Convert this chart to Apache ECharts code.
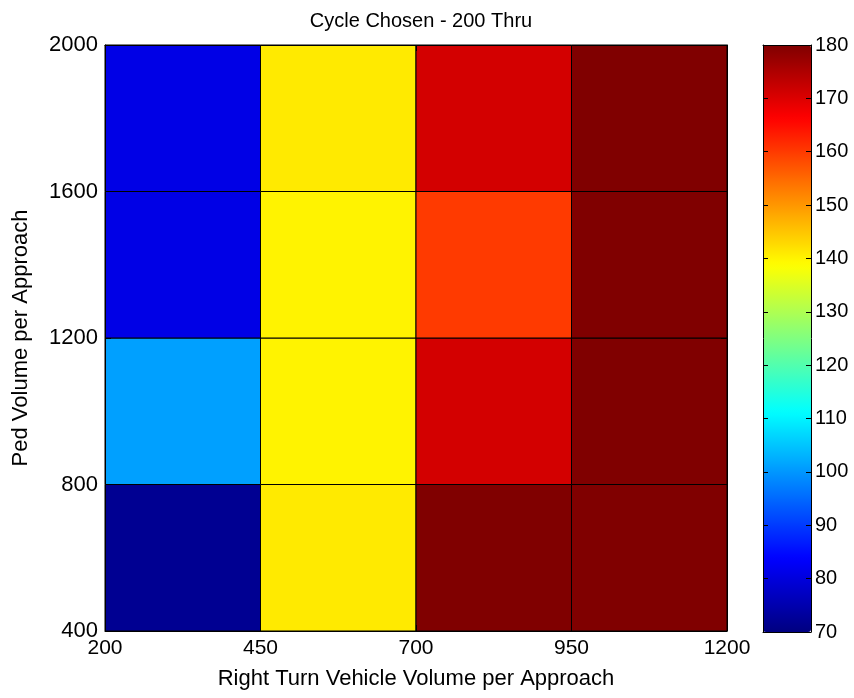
<!DOCTYPE html>
<html>
<head>
<meta charset="utf-8">
<script src="https://cdn.jsdelivr.net/npm/echarts@6/dist/echarts.min.js"></script>
<style>html,body{margin:0;padding:0;background:#fff}#c{width:854px;height:698px}</style>
</head>
<body>
<div id="c"></div>
<script>
const xEdges = [200, 450, 700, 950, 1200];
const yEdges = [400, 800, 1200, 1600, 2000];
// rows from bottom (400-800) to top (1600-2000), columns left to right
const cellValues = [
  [72, 141, 180, 180],
  [101, 140, 171, 180],
  [81, 140, 160, 180],
  [81, 141, 171, 180]
];
const xTicks = [200, 450, 700, 950, 1200];
const yTicks = [400, 800, 1200, 1600, 2000];
const colorTicks = [70, 80, 90, 100, 110, 120, 130, 140, 150, 160, 170, 180];
const jetColors = ['#000080', '#0000FF', '#0080FF', '#00FFFF', '#80FF80', '#FFFF00', '#FF8000', '#FF0000', '#800000'];

const cells = [];
for (let r = 0; r < cellValues.length; r++) {
  for (let c = 0; c < cellValues[r].length; c++) {
    cells.push([xEdges[c], xEdges[c + 1], yEdges[r], yEdges[r + 1], cellValues[r][c]]);
  }
}

const font = 'Liberation Sans, Arial, sans-serif';
const chart = echarts.init(document.getElementById('c'), null, {renderer: 'canvas'});
function tick(len) { return {show: true, inside: true, length: len, lineStyle: {color: '#000', width: 1}}; }
function line() { return {show: true, onZero: false, lineStyle: {color: '#000', width: 1}}; }
const plain = function (v) { return String(v); };
function lbl(size, margin) { return {color: '#000', fontSize: size, fontFamily: font, formatter: plain, margin: margin}; }
const nameStyle = {color: '#000', fontSize: 22, fontFamily: font};

chart.setOption({
  animation: false,
  backgroundColor: '#fff',
  title: {
    text: 'Cycle Chosen - 200 Thru',
    left: 416, top: 6, textAlign: 'center',
    textStyle: {color: '#000', fontSize: 20, fontWeight: 'normal', fontFamily: font}
  },
  grid: [
    {left: 105, top: 45, width: 622, height: 586},
    {left: 763, top: 45, width: 48, height: 587}
  ],
  xAxis: [
    {gridIndex: 0, type: 'value', min: 200, max: 1200, interval: 250, position: 'bottom',
     axisLine: line(), axisTick: tick(6), splitLine: {show: false},
     axisLabel: lbl(21, 7),
     name: 'Right Turn Vehicle Volume per Approach', nameLocation: 'middle', nameGap: 37,
     nameTextStyle: nameStyle, zlevel: 1},
    {gridIndex: 0, type: 'value', min: 200, max: 1200, interval: 250, position: 'top',
     axisLine: line(), axisTick: tick(6), splitLine: {show: false}, axisLabel: {show: false}, zlevel: 1},
    {gridIndex: 1, type: 'value', min: 0, max: 1, position: 'bottom',
     axisLine: line(), axisTick: {show: false}, splitLine: {show: false}, axisLabel: {show: false}, zlevel: 1},
    {gridIndex: 1, type: 'value', min: 0, max: 1, position: 'top',
     axisLine: line(), axisTick: {show: false}, splitLine: {show: false}, axisLabel: {show: false}, zlevel: 1}
  ],
  yAxis: [
    {gridIndex: 0, type: 'value', min: 400, max: 2000, interval: 400, position: 'left',
     axisLine: line(), axisTick: tick(6), splitLine: {show: false},
     axisLabel: lbl(22, 7),
     name: 'Ped Volume per Approach', nameLocation: 'middle', nameGap: 73, nameRotate: 90,
     nameTextStyle: nameStyle, zlevel: 1},
    {gridIndex: 0, type: 'value', min: 400, max: 2000, interval: 400, position: 'right',
     axisLine: line(), axisTick: tick(6), splitLine: {show: false}, axisLabel: {show: false}, zlevel: 1},
    {gridIndex: 1, type: 'value', min: 70, max: 180, interval: 10, position: 'right',
     axisLine: line(), axisTick: tick(5),
     splitLine: {show: false}, axisLabel: lbl(20, 4), zlevel: 1},
    {gridIndex: 1, type: 'value', min: 70, max: 180, interval: 10, position: 'left',
     axisLine: line(), axisTick: tick(5),
     splitLine: {show: false}, axisLabel: {show: false}, zlevel: 1}
  ],
  visualMap: {
    type: 'continuous', min: 70, max: 180, dimension: 4, seriesIndex: 0,
    calculable: false, showLabel: false, text: null,
    left: 763, top: 45, itemWidth: 48, itemHeight: 587, padding: 0,
    inRange: {color: jetColors}, z: 1
  },
  series: [{
    type: 'custom',
    xAxisIndex: 0, yAxisIndex: 0,
    data: cells,
    renderItem: function (params, api) {
      const p0 = api.coord([api.value(0), api.value(3)]);
      const p1 = api.coord([api.value(1), api.value(2)]);
      return {
        type: 'rect',
        shape: {x: p0[0], y: p0[1], width: p1[0] - p0[0], height: p1[1] - p0[1]},
        style: {fill: api.visual('color'), stroke: '#000', lineWidth: 1}
      };
    }
  }]
});
</script>
</body>
</html>
